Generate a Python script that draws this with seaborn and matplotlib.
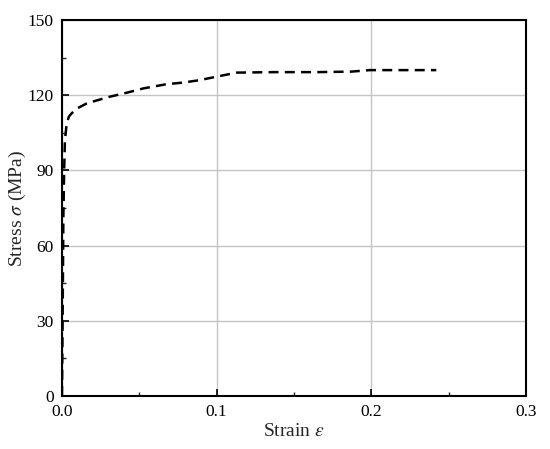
import numpy as np
import pandas as pd
import matplotlib
matplotlib.use("Agg")
import matplotlib.pyplot as plt
from matplotlib.ticker import MultipleLocator
import seaborn as sns

# curve
strain = [0.0, 0.0004, 0.0009, 0.0014, 0.0019, 0.003, 0.0045, 0.0063, 0.01, 0.016,
          0.023, 0.031, 0.042, 0.0526, 0.0677, 0.078, 0.089, 0.1, 0.113, 0.1377,
          0.165, 0.187, 0.199, 0.22, 0.242]
stress = [0.0, 30.0, 71.5, 90.0, 102.0, 108.5, 111.5, 112.8, 114.8, 116.7,
          118.0, 119.4, 121.0, 122.7, 124.4, 125.0, 126.0, 127.4, 129.0, 129.2,
          129.2, 129.4, 130.0, 130.0, 130.0]

x_ticks = [0.0, 0.1, 0.2, 0.3]
y_ticks = [0, 30, 60, 90, 120, 150]

sns.set_style("white")
plt.rcParams['font.family'] = ['Liberation Serif', 'DejaVu Serif']
plt.rcParams['mathtext.fontset'] = 'stix'

df = pd.DataFrame({"strain": strain, "stress": stress})

fig = plt.figure(figsize=(5.5, 4.49), dpi=100)
ax = fig.add_axes([0.1127, 0.118, 0.8437, 0.8375])

sns.lineplot(data=df, x="strain", y="stress", ax=ax, color="black",
             linewidth=1.8, linestyle=(0, (4, 2.5)), zorder=3)

ax.set_xlim(0, 0.3)
ax.set_ylim(0, 150)
ax.set_xticks(x_ticks)
ax.set_yticks(y_ticks)
ax.set_xticklabels([f"{v:.1f}" for v in x_ticks])
ax.set_yticklabels([str(v) for v in y_ticks])
ax.xaxis.set_minor_locator(MultipleLocator(0.05))
ax.yaxis.set_minor_locator(MultipleLocator(15))
ax.tick_params(which="major", direction="in", length=5, width=1.2,
               labelsize=12.5, color="black", labelcolor="black", pad=6,
               bottom=True, left=True, top=False, right=False)
ax.tick_params(which="minor", direction="in", length=3, width=1.0,
               bottom=True, left=True, top=False, right=False)

ax.grid(True, which="major", color="#c4c4c4", linewidth=1.0, zorder=0)
ax.set_axisbelow(True)
for sp in ax.spines.values():
    sp.set_visible(True)
    sp.set_color("black")
    sp.set_linewidth(1.5)

ax.set_xlabel(r"Strain $\varepsilon$", fontsize=14, labelpad=2)
ax.set_ylabel(r"Stress $\sigma$ (MPa)", fontsize=14)
ax.yaxis.set_label_coords(-0.074, 0.5)

fig.savefig("out.png", dpi=100)
